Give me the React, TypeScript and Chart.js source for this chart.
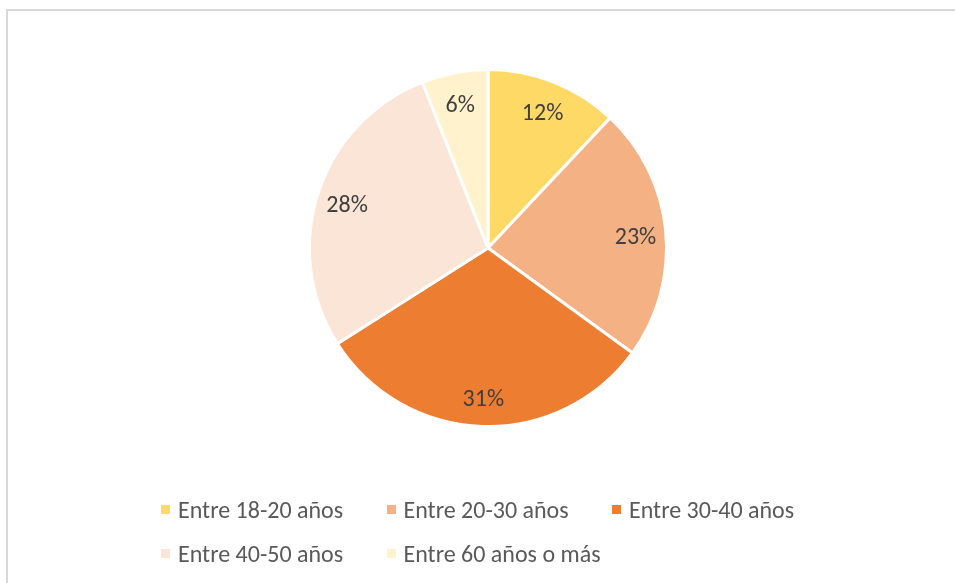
import React, { useEffect, useRef } from "react";
import { Chart, registerables } from "chart.js";

Chart.register(...registerables);

const categories = [
  "Entre 18-20 años",
  "Entre 20-30 años",
  "Entre 30-40 años",
  "Entre 40-50 años",
  "Entre 60 años o más",
];
const values = [12, 23, 31, 28, 6];
const colors = ["#FFD966", "#F4B183", "#ED7D31", "#FBE5D6", "#FFF2CC"];

const FONT = "Carlito, Lato, 'Liberation Sans', sans-serif";

const labelPlugin = {
  id: "sliceLabels",
  afterDatasetsDraw(chart: any) {
    const ctx = chart.ctx;
    const meta = chart.getDatasetMeta(0);
    const total = values.reduce((a, b) => a + b, 0);
    ctx.save();
    ctx.font = `24px ${FONT}`;
    ctx.fillStyle = "#404040";
    ctx.textAlign = "center";
    ctx.textBaseline = "middle";
    meta.data.forEach((arc: any, i: number) => {
      const { x, y, startAngle, endAngle, outerRadius } = arc.getProps(
        ["x", "y", "startAngle", "endAngle", "outerRadius"],
        true
      );
      const mid = (startAngle + endAngle) / 2;
      const r = outerRadius * 0.83;
      const pct = Math.round((values[i] / total) * 100) + "%";
      ctx.fillText(pct, x + Math.cos(mid) * r, y + Math.sin(mid) * r + 4);
    });
    ctx.restore();
  },
};

export default function App() {
  const canvasRef = useRef<HTMLCanvasElement | null>(null);

  useEffect(() => {
    if (!canvasRef.current) return;
    const chart = new Chart(canvasRef.current, {
      type: "pie",
      data: {
        labels: categories,
        datasets: [
          {
            data: values,
            backgroundColor: colors,
            borderColor: "#ffffff",
            borderWidth: 3,
          },
        ],
      },
      options: {
        responsive: false,
        animation: false,
        layout: { padding: { top: 68, bottom: 155, left: 308, right: 287 } },
        plugins: {
          legend: { display: false },
          tooltip: { enabled: false },
        },
      },
      plugins: [labelPlugin],
    });
    return () => chart.destroy();
  }, []);

  return (
    <div
      style={{
        position: "fixed",
        left: 0,
        top: 0,
        width: 955,
        height: 583,
        background: "#ffffff",
        overflow: "hidden",
      }}
    >
      <div
        style={{
          position: "absolute",
          left: 6,
          top: 9,
          width: 980,
          height: 620,
          border: "2px solid #d9d9d9",
          boxSizing: "border-box",
        }}
      />
      <canvas
        ref={canvasRef}
        width={955}
        height={583}
        style={{ position: "absolute", left: 0, top: 0 }}
      />
      {categories.map((c, i) => {
        const col = i % 3;
        const row = Math.floor(i / 3);
        const left = 161 + col * 225.5;
        const cy = 509 + row * 44;
        return (
          <div
            key={c}
            style={{
              position: "absolute",
              left,
              top: cy - 15,
              height: 30,
              display: "flex",
              alignItems: "center",
              whiteSpace: "nowrap",
              fontFamily: FONT,
              fontSize: 24,
              color: "#595959",
            }}
          >
            <span
              style={{
                display: "inline-block",
                width: 9,
                height: 9,
                background: colors[i],
                marginRight: 8,
              }}
            />
            <span>{c}</span>
          </div>
        );
      })}
    </div>
  );
}
